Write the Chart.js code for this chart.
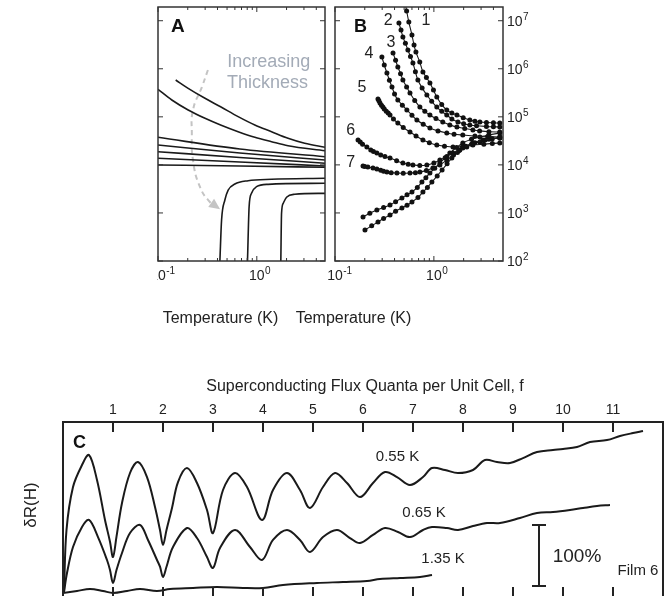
<!DOCTYPE html>
<html>
<head>
<meta charset="utf-8">
<script src="https://cdn.jsdelivr.net/npm/chart.js@4.4.0/dist/chart.umd.min.js"></script>
<style>
  body { margin: 0; background: #fff; }
  #wrap { position: relative; width: 670px; height: 596px; overflow: hidden; }
  canvas { position: absolute; }
</style>
</head>
<body>
<div id="wrap">
  <canvas id="chartA" width="175" height="330" style="left:157px;top:0"></canvas>
  <canvas id="chartB" width="255" height="330" style="left:285px;top:0"></canvas>
  <canvas id="chartC" width="670" height="226" style="left:0;top:370px"></canvas>
</div>
<script>
// ---- Panel A : R(T) of films, [T (K), R (ohm)] ----
const a1 = [[0.151,5.83e5],[0.202,3.92e5],[0.299,2.43e5],[0.430,1.62e5],[0.647,1.01e5],[0.955,6.76e4],[1.41,4.90e4],[2.07,3.57e4],[3.05,2.81e4],[4.9,2.32e4]];
const a2 = [[0.1,3.74e5],[0.138,2.24e5],[0.202,1.39e5],[0.299,9.31e4],[0.430,6.76e4],[0.647,4.90e4],[0.955,3.75e4],[1.41,3.04e4],[2.07,2.51e4],[4.9,1.97e4]];
const a3 = [[0.1,3.75e4],[0.673,2.14e4],[4.9,1.48e4]];
const a4 = [[0.1,2.59e4],[0.673,1.77e4],[4.9,1.26e4]];
const a5 = [[0.1,1.88e4],[0.673,1.43e4],[4.9,1.08e4]];
const a6 = [[0.1,1.37e4],[0.673,1.15e4],[4.9,9.48e3]];
const a7 = [[0.1,9.95e3],[0.673,9.48e3],[4.9,8.91e3]];
const a8 = [[0.423,100],[0.440,713],[0.475,1860],[0.513,3000],[0.600,4000],[0.817,4690],[1.41,5010],[4.9,5260]];
const a9 = [[0.805,100],[0.836,1350],[0.884,2560],[0.993,3520],[1.30,3940],[4.9,4140]];
const a10 = [[1.75,100],[1.78,984],[1.85,1590],[2.00,2120],[2.42,2440],[4.9,2560]];
const thicknessArrow = [[0.320,9.42e5],[0.278,4.17e5],[0.226,1.39e5],[0.220,4.60e4],[0.226,1.26e4],[0.266,3.47e3],[0.335,1.69e3],[0.394,1.33e3]];

// ---- Panel B : measured films 1-7 and two more ----
const b1 = [[0.506,2.7e7],[0.53,1.6e7],[0.558,9.4e6],[0.600,5.04e6],[0.63,3.12e6],[0.658,2.23e6],[0.72,1.38e6],[0.775,8.57e5],[0.84,6.6e5],[0.912,5.06e5],[0.99,3.6e5],[1.07,2.58e5],[1.2,1.8e5],[1.35,1.39e5],[1.52,1.2e5],[1.71,1.09e5],[1.98,9.6e4],[2.31,8.59e4],[2.6,8.1e4],[2.92,7.80e4],[3.4,7.6e4],[4.0,7.5e4],[4.64,7.43e4]];
const b2 = [[0.443,8.96e6],[0.465,6.4e6],[0.486,4.58e6],[0.515,3.4e6],[0.546,2.46e6],[0.58,1.8e6],[0.614,1.32e6],[0.65,8.7e5],[0.689,5.83e5],[0.76,4.0e5],[0.849,2.84e5],[0.95,2.1e5],[1.07,1.60e5],[1.2,1.3e5],[1.35,1.09e5],[1.52,9.0e4],[1.75,7.80e4],[2.0,7.2e4],[2.31,6.76e4],[2.7,6.5e4],[3.4,6.3e4],[4.0,6.2e4],[4.64,6.14e4]];
const b3 = [[0.386,2.13e6],[0.41,1.5e6],[0.432,1.09e6],[0.46,7.9e5],[0.486,5.83e5],[0.53,4.2e5],[0.573,3.13e5],[0.64,2.2e5],[0.722,1.60e5],[0.81,1.3e5],[0.912,1.09e5],[1.05,9.2e4],[1.23,7.80e4],[1.45,6.8e4],[1.71,6.14e4],[2.05,5.7e4],[2.48,5.32e4],[2.9,5.1e4],[3.6,4.9e4],[4.64,4.83e4]];
const b4 = [[0.298,1.76e6],[0.315,1.2e6],[0.335,8.17e5],[0.355,5.8e5],[0.377,4.17e5],[0.40,3.0e5],[0.432,2.24e5],[0.48,1.75e5],[0.533,1.39e5],[0.60,1.08e5],[0.673,8.59e4],[0.78,7.0e4],[0.912,5.85e4],[1.1,5.1e4],[1.35,4.60e4],[1.6,4.35e4],[1.96,4.19e4],[2.6,4.0e4],[3.5,3.9e4],[4.64,3.80e4]];
const b5 = [[0.272,2.35e5],[0.278,2.15e5],[0.285,1.95e5],[0.295,1.75e5],[0.305,1.60e5],[0.315,1.45e5],[0.33,1.3e5],[0.345,1.2e5],[0.360,1.09e5],[0.39,9.0e4],[0.432,7.43e4],[0.49,6.0e4],[0.573,4.83e4],[0.66,4.0e4],[0.775,3.30e4],[0.9,2.9e4],[1.07,2.59e4],[1.28,2.45e4],[1.56,2.36e4],[1.95,2.4e4],[2.48,2.59e4],[3.2,2.7e4],[3.9,2.8e4],[4.64,2.85e4]];
const b6 = [[0.171,3.30e4],[0.18,3.0e4],[0.19,2.7e4],[0.210,2.36e4],[0.23,2.05e4],[0.245,1.9e4],[0.265,1.77e4],[0.29,1.6e4],[0.32,1.5e4],[0.360,1.39e4],[0.42,1.22e4],[0.486,1.09e4],[0.55,1.03e4],[0.614,9.95e3],[0.72,9.7e3],[0.849,9.95e3],[1.0,1.1e4],[1.15,1.26e4],[1.35,1.5e4],[1.56,1.77e4],[1.8,2.0e4],[2.15,2.36e4],[2.6,2.9e4],[3.13,3.30e4],[3.8,3.5e4],[4.64,3.62e4]];
const b7 = [[0.192,9.48e3],[0.20,9.3e3],[0.215,9.0e3],[0.242,8.61e3],[0.265,8.2e3],[0.29,7.7e3],[0.31,7.4e3],[0.335,7.11e3],[0.37,6.9e3],[0.423,6.78e3],[0.49,6.7e3],[0.573,6.78e3],[0.65,6.9e3],[0.722,7.11e3],[0.84,7.6e3],[0.977,8.61e3],[1.15,1.0e4],[1.35,1.26e4],[1.58,1.6e4],[1.83,2.04e4],[2.1,2.45e4],[2.48,2.85e4],[3.3,3.3e4],[3.9,3.5e4],[4.64,3.62e4]];
const b8 = [[0.192,824],[0.225,990],[0.265,1150],[0.31,1300],[0.360,1460],[0.41,1720],[0.475,2050],[0.535,2380],[0.600,2730],[0.68,3400],[0.757,4400],[0.83,5400],[0.912,6780],[1.02,8500],[1.15,1.09e4],[1.3,1.4e4],[1.45,1.77e4],[1.7,2.3e4],[1.96,2.85e4],[2.4,3.4e4],[2.92,3.80e4],[3.6,4.2e4],[4.64,4.60e4]];
const b9 = [[0.201,442],[0.235,540],[0.272,647],[0.31,770],[0.360,906],[0.41,1080],[0.475,1270],[0.535,1450],[0.600,1690],[0.69,2100],[0.775,2730],[0.86,3400],[0.955,4400],[1.08,5900],[1.21,7820],[1.36,1.05e4],[1.52,1.39e4],[1.73,1.8e4],[1.96,2.24e4],[2.4,2.7e4],[2.92,2.99e4],[3.6,3.4e4],[4.64,3.80e4]];
const filmNames = ['1','2','3','4','5','6','7'];

// ---- Panel C : dR(H) vs flux quanta f, in % ----
const c055 = [[0.02,4.9],[0.07,106.6],[0.20,177],[0.38,213],[0.52,229.5],[0.68,188.5],[0.84,123],[0.94,87.4],[1.00,62.3],[1.07,95.6],[1.18,150.8],[1.34,200],[1.50,218],[1.68,193.4],[1.84,144.3],[1.94,106.5],[2.00,82],[2.07,106.5],[2.18,142.6],[2.30,185.2],[2.48,208.2],[2.68,183.6],[2.88,139.3],[3.00,101.6],[3.20,172.1],[3.44,200],[3.68,177],[3.98,123],[4.20,172.1],[4.48,200],[4.74,172.1],[4.94,142.6],[5.20,177],[5.44,200],[5.68,183.6],[5.94,160.6],[6.20,183.6],[6.44,201.6],[6.68,193.4],[6.94,180.3],[7.20,193.4],[7.38,208.2],[7.64,204.9],[7.90,200],[8.20,204.9],[8.44,221.3],[8.68,218],[8.94,216.4],[9.20,224.5],[9.48,234.4],[9.80,237.7],[10.00,239.3],[10.28,242.6],[10.54,250.8],[10.88,254],[11.14,260.6],[11.40,265.5],[11.60,268.8]];
const c065 = [[0.02,4.9],[0.08,36],[0.20,78.7],[0.38,111.5],[0.52,123],[0.70,95],[0.88,57.4],[0.94,41],[1.00,19.7],[1.07,41],[1.18,68.9],[1.34,101.6],[1.54,114.8],[1.70,90.2],[1.88,57.4],[1.94,46.4],[2.00,29.5],[2.07,46.4],[2.20,78.7],[2.48,109.8],[2.68,93.4],[2.88,62.3],[3.00,44.3],[3.14,77],[3.44,106.6],[3.74,78.7],[3.98,57.4],[4.20,90.2],[4.48,106.6],[4.74,90.2],[4.94,70.5],[5.20,95],[5.48,106.6],[5.74,93.4],[5.94,85.2],[6.20,98.4],[6.44,109.8],[6.70,103.3],[6.94,95],[7.20,106.6],[7.38,111.5],[7.68,109.8],[7.90,106.6],[8.20,113.1],[8.48,118],[8.74,118],[9.14,126.2],[9.48,134.4],[9.80,136],[10.14,139.3],[10.40,142.6],[10.68,145.9],[10.94,147.5]];
const c135 = [[0,3.3],[0.28,6.6],[0.54,9.8],[0.80,6.6],[1.00,3.3],[1.28,6.6],[1.54,9.8],[1.88,6.6],[2.14,9.8],[2.60,11.5],[3.08,13.1],[3.60,11.5],[4.00,11.5],[4.40,16.4],[5.08,19.7],[5.60,21.3],[6.08,23],[6.34,26.2],[6.74,27.9],[7.14,29.5],[7.38,32.8]];
const tempLabels = ['0.55 K','0.65 K','1.35 K'];

// ---- axis ticks ----
const tempTicks = [0.1, 1];
const tempTickExp = ['-1', '0'];
const tempMinor = [0.2,0.3,0.4,0.5,0.6,0.7,0.8,0.9,2,3,4];
const resTicks = [1e2,1e3,1e4,1e5,1e6,1e7];
const resTickExp = ['2','3','4','5','6','7'];
const fluxTicks = [1,2,3,4,5,6,7,8,9,10,11];

const FONT = '"Liberation Sans", Arial, Helvetica, sans-serif';
const INK = '#1a1a1a';

function drawPow(ctx, x, y, exp, center) {
  ctx.font = '14px ' + FONT;
  const w = ctx.measureText('10').width;
  const x0 = center ? x - w / 2 : x;
  ctx.textAlign = 'left';
  ctx.textBaseline = 'alphabetic';
  ctx.fillText('10', x0, y);
  ctx.font = '10px ' + FONT;
  ctx.fillText(exp, x0 + w + 0.5, y - 6);
}

// frame + inward ticks for the two log panels
function logFrame(chart, rightLabels) {
  const ctx = chart.ctx, a = chart.chartArea;
  const xs = chart.scales.x, ys = chart.scales.y;
  ctx.save();
  ctx.strokeStyle = '#333';
  ctx.lineWidth = 1.5;
  ctx.strokeRect(a.left, a.top, a.right - a.left, a.bottom - a.top);
  ctx.lineWidth = 1;
  ctx.beginPath();
  tempMinor.forEach(v => {
    const px = xs.getPixelForValue(v);
    ctx.moveTo(px, a.bottom); ctx.lineTo(px, a.bottom - 3);
    ctx.moveTo(px, a.top); ctx.lineTo(px, a.top + 3);
  });
  tempTicks.forEach(v => {
    const px = xs.getPixelForValue(v);
    ctx.moveTo(px, a.bottom); ctx.lineTo(px, a.bottom - 5);
    ctx.moveTo(px, a.top); ctx.lineTo(px, a.top + 5);
  });
  resTicks.forEach(v => {
    const py = ys.getPixelForValue(v);
    ctx.moveTo(a.left, py); ctx.lineTo(a.left + 5, py);
    ctx.moveTo(a.right, py); ctx.lineTo(a.right - 5, py);
  });
  ctx.stroke();
  ctx.fillStyle = '#222';
  tempTicks.forEach((v, i) => drawPow(ctx, xs.getPixelForValue(v), a.bottom + 19, tempTickExp[i], true));
  if (rightLabels) {
    resTicks.forEach((v, i) => drawPow(ctx, a.right + 4, ys.getPixelForValue(v) + 5, resTickExp[i], false));
  }
  ctx.font = '16px ' + FONT;
  ctx.textAlign = 'center';
  ctx.textBaseline = 'middle';
  ctx.fillText('Temperature (K)', chart.width / 2 - (rightLabels ? 59 : 24), 319);
  ctx.restore();
}

const lineA = (d) => ({ data: d, borderColor: INK, borderWidth: 1.6, pointRadius: 0, cubicInterpolationMode: 'monotone' });

const annotA = {
  id: 'annotA',
  afterDraw(chart) {
    logFrame(chart, false);
    const ctx = chart.ctx, a = chart.chartArea;
    const xs = chart.scales.x, ys = chart.scales.y;
    ctx.save();
    // arrow head on the dashed arc
    const meta = chart.getDatasetMeta(chart.data.datasets.length - 1);
    const pts = meta.data;
    const p = pts[pts.length - 1];
    const q = (p.cp1x !== undefined) ? { x: p.cp1x, y: p.cp1y } : pts[pts.length - 2];
    const ang = Math.atan2(p.y - q.y, p.x - q.x);
    ctx.fillStyle = '#c4c4c4';
    ctx.translate(p.x, p.y);
    ctx.rotate(ang);
    ctx.beginPath();
    ctx.moveTo(4, 0); ctx.lineTo(-7, -5); ctx.lineTo(-7, 5);
    ctx.closePath(); ctx.fill();
    ctx.setTransform(1, 0, 0, 1, 0, 0);
    ctx.fillStyle = '#a3abb7';
    ctx.font = '18px ' + FONT;
    ctx.textAlign = 'center';
    ctx.textBaseline = 'alphabetic';
    ctx.fillText('Increasing', xs.getPixelForValue(1.32), ys.getPixelForValue(1.10e6));
    ctx.fillText('Thickness', xs.getPixelForValue(1.28), ys.getPixelForValue(3.92e5));
    ctx.fillStyle = '#111';
    ctx.font = 'bold 19px ' + FONT;
    ctx.textAlign = 'left';
    ctx.fillText('A', a.left + 13, a.top + 25);
    ctx.restore();
  }
};

new Chart(document.getElementById('chartA'), {
  type: 'line',
  data: {
    datasets: [a1, a2, a3, a4, a5, a6, a7, a8, a9, a10].map(lineA).concat([{
      data: thicknessArrow, borderColor: '#c4c4c4', borderWidth: 2, borderDash: [5, 4],
      pointRadius: 0, tension: 0.5
    }])
  },
  options: {
    responsive: false, animation: false, devicePixelRatio: 1,
    layout: { padding: { left: 1, right: 7, top: 7, bottom: 69 } },
    plugins: { legend: { display: false }, tooltip: { enabled: false } },
    scales: {
      x: { type: 'logarithmic', min: 0.1, max: 4.9, display: false },
      y: { type: 'logarithmic', min: 100, max: 1.93e7, display: false }
    }
  },
  plugins: [annotA]
});

// ---- Panel B ----
const filmLabelPos = [[0.83,8.15e6],[0.345,8.15e6],[0.368,2.88e6],[0.220,1.65e6],[0.187,3.33e5],[0.144,4.19e4],[0.144,9.16e3]];
const annotB = {
  id: 'annotB',
  afterDraw(chart) {
    logFrame(chart, true);
    const ctx = chart.ctx, a = chart.chartArea;
    const xs = chart.scales.x, ys = chart.scales.y;
    ctx.save();
    ctx.fillStyle = '#222';
    ctx.font = '16px ' + FONT;
    ctx.textAlign = 'center';
    ctx.textBaseline = 'alphabetic';
    filmNames.forEach((n, i) => ctx.fillText(n, xs.getPixelForValue(filmLabelPos[i][0]), ys.getPixelForValue(filmLabelPos[i][1])));
    ctx.fillStyle = '#111';
    ctx.font = 'bold 18px ' + FONT;
    ctx.textAlign = 'left';
    ctx.fillText('B', a.left + 19, a.top + 25);
    ctx.restore();
  }
};

new Chart(document.getElementById('chartB'), {
  type: 'line',
  data: {
    datasets: [b1, b2, b3, b4, b5, b6, b7, b8, b9].map(d => ({
      data: d, borderColor: INK, borderWidth: 1.1, tension: 0.3,
      pointRadius: 2.5, pointBackgroundColor: '#111', pointBorderWidth: 0
    }))
  },
  options: {
    responsive: false, animation: false, devicePixelRatio: 1,
    layout: { padding: { left: 50, right: 37, top: 7, bottom: 69 } },
    plugins: { legend: { display: false }, tooltip: { enabled: false } },
    scales: {
      x: { type: 'logarithmic', min: 0.1, max: 5, display: false },
      y: { type: 'logarithmic', min: 100, max: 1.93e7, display: false }
    }
  },
  plugins: [annotB]
});

// ---- Panel C ----
const tempLabelPos = [[6.69,226.2],[7.22,134.4],[7.6,59]];
const annotC = {
  id: 'annotC',
  afterDraw(chart) {
    const ctx = chart.ctx, a = chart.chartArea;
    const xs = chart.scales.x, ys = chart.scales.y;
    ctx.save();
    ctx.strokeStyle = '#222';
    ctx.lineWidth = 2;
    ctx.strokeRect(a.left, a.top, a.right - a.left, a.bottom - a.top + 2);
    ctx.beginPath();
    fluxTicks.forEach(v => {
      const px = xs.getPixelForValue(v);
      ctx.moveTo(px, a.top); ctx.lineTo(px, a.top + 10);
      ctx.moveTo(px, a.bottom + 1); ctx.lineTo(px, a.bottom - 8);
    });
    // 100 % scale bar
    const bx = xs.getPixelForValue(9.52);
    const y0 = ys.getPixelForValue(14.8), y1 = ys.getPixelForValue(114.8);
    ctx.moveTo(bx, y0); ctx.lineTo(bx, y1);
    ctx.moveTo(bx - 7, y0); ctx.lineTo(bx + 7, y0);
    ctx.moveTo(bx - 7, y1); ctx.lineTo(bx + 7, y1);
    ctx.stroke();

    ctx.fillStyle = '#222';
    ctx.textAlign = 'center';
    ctx.textBaseline = 'middle';
    ctx.font = '14px ' + FONT;
    fluxTicks.forEach(v => ctx.fillText(String(v), xs.getPixelForValue(v), a.top - 12));
    ctx.font = '16px ' + FONT;
    ctx.fillText('Superconducting Flux Quanta per Unit Cell, f', 365, 17);
    ctx.font = '15px ' + FONT;
    tempLabels.forEach((t, i) => ctx.fillText(t, xs.getPixelForValue(tempLabelPos[i][0]), ys.getPixelForValue(tempLabelPos[i][1])));
    ctx.font = '19px ' + FONT;
    ctx.fillText('100%', xs.getPixelForValue(10.28), ys.getPixelForValue(62.3));
    ctx.font = '15px ' + FONT;
    ctx.fillText('Film 6', xs.getPixelForValue(11.5), ys.getPixelForValue(39.3));
    ctx.save();
    ctx.translate(31, 135);
    ctx.rotate(-Math.PI / 2);
    ctx.font = '17px ' + FONT;
    ctx.fillText('δR(H)', 0, 0);
    ctx.restore();
    ctx.fillStyle = '#111';
    ctx.font = 'bold 18px ' + FONT;
    ctx.textAlign = 'left';
    ctx.textBaseline = 'alphabetic';
    ctx.fillText('C', a.left + 10, a.top + 26);
    ctx.restore();
  }
};

new Chart(document.getElementById('chartC'), {
  type: 'line',
  data: {
    datasets: [c055, c065, c135].map(d => ({
      data: d, borderColor: INK, borderWidth: 2, pointRadius: 0, tension: 0.35
    }))
  },
  options: {
    responsive: false, animation: false, devicePixelRatio: 1,
    layout: { padding: { left: 63, right: 7, top: 52, bottom: 1 } },
    plugins: { legend: { display: false }, tooltip: { enabled: false } },
    scales: {
      x: { type: 'linear', min: 0, max: 12, display: false },
      y: { type: 'linear', min: 0, max: 283.6, display: false }
    }
  },
  plugins: [annotC]
});
</script>
</body>
</html>
